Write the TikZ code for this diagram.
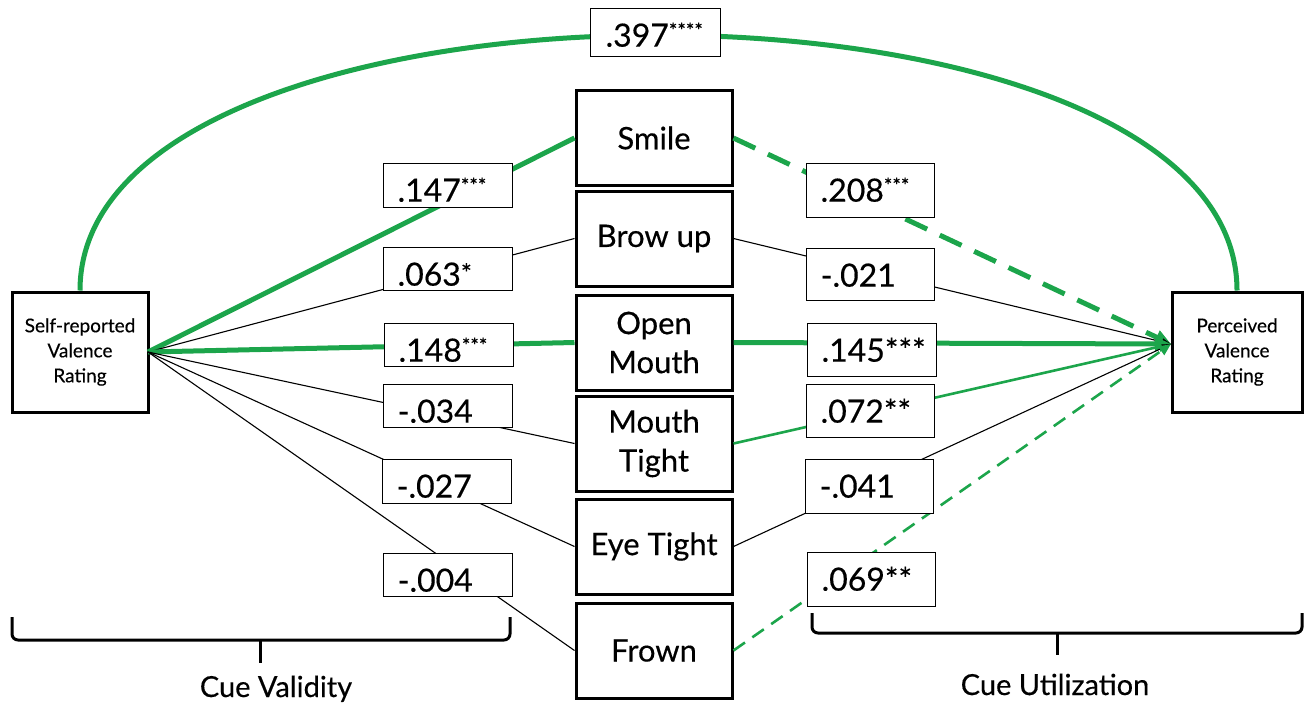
\documentclass[tikz,border=0pt]{standalone}
\usepackage{fontspec}
\setmainfont{Lato}[FakeBold=0.35]
\usetikzlibrary{arrows.meta}
\definecolor{lensgreen}{RGB}{28,165,75}
\begin{document}
\begin{tikzpicture}[x=1pt,y=-1pt,
  cue/.style={draw, line width=3pt, minimum width=156pt, minimum height=95pt, inner sep=0pt, align=center, font=\fontsize{31}{39}\selectfont},
  outer/.style={draw, line width=3pt, minimum height=120pt, inner sep=0pt, align=center, font=\fontsize{19}{25}\selectfont},
  lbl/.style={draw, fill=white, line width=1.3pt, anchor=north west, inner xsep=14pt, inner ysep=0pt, text height=38pt, align=left, font=\fontsize{32}{32}\selectfont},
  thinline/.style={line width=1.1pt, black},
  thickg/.style={line width=5pt, lensgreen},
  medg/.style={line width=2.6pt, lensgreen},
  bigdash/.style={dash pattern=on 24pt off 14pt},
  smalldash/.style={dash pattern=on 14pt off 9pt},
  bigtip/.style={-{Triangle[length=16pt,width=14pt]}},
  midtip/.style={-{Triangle[length=12pt,width=10pt]}},
  smalltip/.style={-{Triangle[length=9pt,width=7pt]}},
  brace/.style={line width=3pt, rounded corners=6pt},
  bracetext/.style={anchor=base, font=\fontsize{29}{29}\selectfont}
]
\useasboundingbox (0,0) rectangle (1305,705);
\newcommand{\smallstars}[1]{{\fontsize{20}{20}\selectfont\raisebox{9pt}{#1}}}

% outer boxes
\node[outer, minimum width=136pt] (L) at (80,352) {Self-reported\\Valence\\Rating};
\node[outer, minimum width=130pt] (R) at (1237,352) {Perceived\\Valence\\Rating};

% cue boxes
\node[cue] (smile) at (654,138) {Smile};
\node[cue] (brow) at (654,238.5) {Brow up};
\node[cue] (open) at (654,342.5) {Open\\Mouth};
\node[cue] (mtight) at (654,443.5) {Mouth\\Tight};
\node[cue] (eye) at (654,546.5) {Eye Tight};
\node[cue] (frown) at (654,650.5) {Frown};

\coordinate (lout) at (148,352);
\coordinate (rin) at (1171,344);

% top arc
\draw[thickg] (L.north) .. controls (80,-50) and (1237,-50) .. (R.north);

% cue validity lines
\draw[thickg] (lout) -- (smile.west);
\draw[thinline] (lout) -- (brow.west);
\draw[thickg] (lout) -- (open.west);
\draw[thinline] (lout) -- (mtight.west);
\draw[thinline] (lout) -- (eye.west);
\draw[thinline] (lout) -- (frown.west);

% cue utilization lines
\draw[thickg, bigdash, bigtip] (smile.east) -- (rin);
\draw[thinline, smalltip] (brow.east) -- (rin);
\draw[thickg, bigtip] (open.east) -- (rin);
\draw[medg, midtip] (mtight.east) -- (rin);
\draw[thinline, smalltip] (eye.east) -- (rin);
\draw[medg, smalldash, midtip] (frown.east) -- (rin);

% labels
\node[lbl, text width=100pt, text depth=10pt, inner xsep=15pt] (l397) at (590,8) {.397\smallstars{****}};

\node[lbl, text width=101pt, text depth=6pt] (l147) at (383,163) {.147\smallstars{***}};
\node[lbl, text width=101pt, text depth=5pt] (l063) at (383,247) {.063{\fontsize{26}{26}\selectfont\raisebox{3pt}{*}}};
\node[lbl, text width=101pt, text depth=5pt] (l148) at (384,323) {.148\smallstars{***}};
\node[lbl, text width=101pt, text depth=5pt] (l034) at (383,384) {-.034};
\node[lbl, text width=101pt, text depth=6pt] (l027) at (382,459) {-.027};
\node[lbl, text width=101pt, text depth=5pt] (l004) at (383,553) {-.004};

\node[lbl, text width=100pt, text depth=16pt] (l208) at (806,163) {.208\smallstars{***}};
\node[lbl, text width=100pt, text depth=14pt] (l021) at (806,248) {-.021};
\node[lbl, text width=101pt, text depth=15pt] (l145) at (807,323) {.145***};
\node[lbl, text width=100pt, text depth=15pt] (l072) at (806,384) {.072**};
\node[lbl, text width=100pt, text depth=16pt] (l041) at (805,459) {-.041};
\node[lbl, text width=100pt, text depth=16pt] (l069) at (807,552) {.069**};

% braces
\draw[brace] (12,617) -- (12,640) -- (260,640) -- (510,640) -- (510,617);
\draw[line width=3pt] (260,640) -- (260,663);
\draw[brace] (812,613) -- (812,633) -- (1057,633) -- (1302,633) -- (1302,613);
\draw[line width=3pt] (1057,633) -- (1057,655);

\node[bracetext] (cv) at (276,697) {Cue Validity};
\node[bracetext] (cu) at (1055,695) {Cue Utilization};
\end{tikzpicture}
\end{document}
